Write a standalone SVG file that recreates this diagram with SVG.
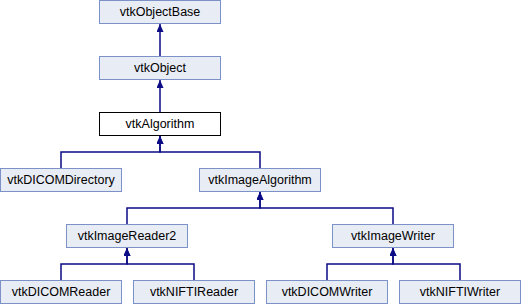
<svg xmlns="http://www.w3.org/2000/svg" width="522" height="304" viewBox="0 0 522 304">
  <style>
    .box { fill: #e8ecf5; stroke: #7d91c9; stroke-width: 1; }
    .cur { fill: #ffffff; stroke: #000000; stroke-width: 1; }
    .lbl { font-family: "Liberation Sans", Arial, sans-serif; font-size: 12.5px; fill: #000000; text-anchor: middle; }
    .edge { fill: none; stroke: #0b0b85; stroke-width: 1.5; marker-end: url(#arrow); }
  </style>
  <defs>
    <marker id="arrow" markerUnits="userSpaceOnUse" viewBox="0 0 8 7" refX="8" refY="3.5" markerWidth="8" markerHeight="7" orient="auto">
      <path d="M0,0 L8,3.5 L0,7 z" fill="#0b0b85"/>
    </marker>
  </defs>

  <g id="connectors">
    <path class="edge" d="M160,56 V24"/>
    <path class="edge" d="M160,112 V80"/>
    <path class="edge" d="M61,168 V152 H160 V136"/>
    <path class="edge" d="M260,168 V152 H160 V136"/>
    <path class="edge" d="M127,224 V208 H260 V192"/>
    <path class="edge" d="M393,224 V208 H260 V192"/>
    <path class="edge" d="M61,280 V264 H127 V248"/>
    <path class="edge" d="M194,280 V264 H127 V248"/>
    <path class="edge" d="M327,280 V264 H393 V248"/>
    <path class="edge" d="M460,280 V264 H393 V248"/>
  </g>

  <g id="vtkObjectBase">
    <rect class="box" x="99.5" y="0.5" width="121" height="23"/>
    <text class="lbl" x="160" y="16">vtkObjectBase</text>
  </g>
  <g id="vtkObject">
    <rect class="box" x="99.5" y="56.5" width="121" height="23"/>
    <text class="lbl" x="160" y="72">vtkObject</text>
  </g>
  <g id="vtkAlgorithm">
    <rect class="cur" x="99.5" y="112.5" width="121" height="23"/>
    <text class="lbl" x="160" y="128">vtkAlgorithm</text>
  </g>
  <g id="vtkDICOMDirectory">
    <rect class="box" x="0.5" y="168.5" width="121" height="23"/>
    <text class="lbl" x="61" y="184">vtkDICOMDirectory</text>
  </g>
  <g id="vtkImageAlgorithm">
    <rect class="box" x="199.5" y="168.5" width="121" height="23"/>
    <text class="lbl" x="260" y="184">vtkImageAlgorithm</text>
  </g>
  <g id="vtkImageReader2">
    <rect class="box" x="66.5" y="224.5" width="121" height="23"/>
    <text class="lbl" x="127" y="240">vtkImageReader2</text>
  </g>
  <g id="vtkImageWriter">
    <rect class="box" x="332.5" y="224.5" width="121" height="23"/>
    <text class="lbl" x="393" y="240">vtkImageWriter</text>
  </g>
  <g id="vtkDICOMReader">
    <rect class="box" x="0.5" y="280.5" width="121" height="23"/>
    <text class="lbl" x="61" y="296">vtkDICOMReader</text>
  </g>
  <g id="vtkNIFTIReader">
    <rect class="box" x="133.5" y="280.5" width="121" height="23"/>
    <text class="lbl" x="194" y="296">vtkNIFTIReader</text>
  </g>
  <g id="vtkDICOMWriter">
    <rect class="box" x="266.5" y="280.5" width="121" height="23"/>
    <text class="lbl" x="327" y="296">vtkDICOMWriter</text>
  </g>
  <g id="vtkNIFTIWriter">
    <rect class="box" x="399.5" y="280.5" width="121" height="23"/>
    <text class="lbl" x="460" y="296">vtkNIFTIWriter</text>
  </g>
</svg>
